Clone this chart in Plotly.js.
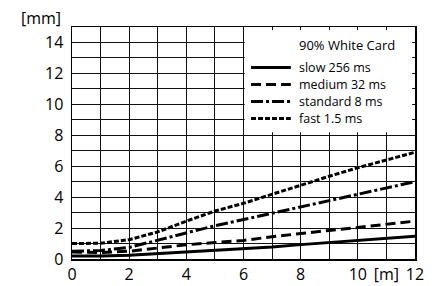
<!DOCTYPE html>
<html>
<head>
<meta charset="utf-8">
<script src="https://cdn.plot.ly/plotly-3.0.1.min.js"></script>
<style>html,body{margin:0;padding:0;background:#fff;}#chart{width:444px;height:286px;}</style>
</head>
<body>
<div id="chart"></div>
<script>
// Data (distance [m] vs spot/deviation [mm])
const distance = [0, 1, 2, 3, 4, 5, 6, 7, 8, 9, 10, 11, 12];
const slow256 = [0.2, 0.2, 0.25, 0.35, 0.45, 0.55, 0.63, 0.77, 0.93, 1.07, 1.21, 1.35, 1.47];
const medium32 = [0.45, 0.42, 0.5, 0.7, 0.92, 1.06, 1.2, 1.44, 1.66, 1.85, 2.04, 2.25, 2.45];
const standard8 = [0.5, 0.55, 0.75, 1.2, 1.7, 2.15, 2.55, 2.95, 3.37, 3.8, 4.2, 4.6, 5.0];
const fast15 = [1.0, 1.02, 1.25, 1.75, 2.45, 3.1, 3.6, 4.2, 4.8, 5.35, 5.9, 6.4, 6.9];
const seriesNames = ['slow 256 ms', 'medium 32 ms', 'standard 8 ms', 'fast 1.5 ms'];
const legendTitle = '90% White Card';
const xTickVals = [0, 1, 2, 3, 4, 5, 6, 7, 8, 9, 10, 11, 12];
const xTickText = ['0', '', '2', '', '4', '', '6', '', '8', '', '10', '[m]', '12'];
const yTickVals = [0, 1, 2, 3, 4, 5, 6, 7, 8, 9, 10, 11, 12, 13, 14, 15];
const yTickText = ['0', '', '2', '', '4', '', '6', '', '8', '', '10', '', '12', '', '14', ''];
const yUnit = '[mm]';

const seriesValues = [slow256, medium32, standard8, fast15];
const dashes = ['solid', '10px,5px', '12px,3px,3px,3px', '5px,2px'];
const LW = 3;
const FONT = '"Open Sans", "DejaVu Sans", sans-serif';

const traces = seriesValues.map((ys, i) => ({
  type: 'scatter', mode: 'lines', x: distance, y: ys, name: seriesNames[i],
  line: {color: '#000', width: LW, dash: dashes[i]}, showlegend: false, hoverinfo: 'skip'
}));

// manual legend (inside a white box covering the grid)
const legX0 = 0.522, legX1 = 0.638, legTextX = 0.66;
const legY = [0.825, 0.752, 0.679, 0.606];
const shapes = [{
  type: 'rect', xref: 'x', yref: 'y', x0: 6.04, x1: 11.9, y0: 8.2, y1: 14.8,
  fillcolor: '#fff', line: {width: 0}, layer: 'above'
}];
const annotations = [{
  xref: 'paper', yref: 'paper', x: legTextX, y: 0.922, xanchor: 'left', yanchor: 'middle',
  text: legendTitle, showarrow: false, borderpad: 0,
  font: {family: FONT, size: 13, color: '#000'}
}, {
  xref: 'paper', yref: 'paper', x: -0.026, y: 1.039, xanchor: 'right', yanchor: 'middle',
  text: yUnit, showarrow: false, font: {family: FONT, size: 16, color: '#000'}
}];
seriesNames.forEach((n, i) => {
  shapes.push({type: 'line', xref: 'paper', yref: 'paper', x0: legX0, x1: legX1, y0: legY[i], y1: legY[i],
    line: {color: '#000', width: LW, dash: dashes[i]}, layer: 'above'});
  annotations.push({xref: 'paper', yref: 'paper', x: legTextX, y: legY[i], xanchor: 'left', yanchor: 'middle',
    text: n, showarrow: false, borderpad: 0,
    font: {family: FONT, size: 12.5, color: '#000'}});
});

const layout = {
  width: 444, height: 286,
  margin: {l: 72, r: 29, t: 27, b: 27, pad: 0},
  paper_bgcolor: '#fff', plot_bgcolor: '#fff',
  showlegend: false,
  font: {family: FONT, size: 16, color: '#000'},
  xaxis: {
    range: [0, 12], tickmode: 'array', tickvals: xTickVals, ticktext: xTickText,
    showgrid: true, gridcolor: '#111', gridwidth: 1, zeroline: false,
    showline: true, linecolor: '#000', linewidth: 1.5, mirror: true,
    ticks: '', tickfont: {family: FONT, size: 16, color: '#000'}, fixedrange: true
  },
  yaxis: {
    range: [0, 15], tickmode: 'array', tickvals: yTickVals, ticktext: yTickText,
    showgrid: true, gridcolor: '#111', gridwidth: 1, zeroline: false,
    showline: true, linecolor: '#000', linewidth: 1.5, mirror: true,
    ticks: '', ticklabelstandoff: 4, tickfont: {family: FONT, size: 16, color: '#000'}, fixedrange: true
  },
  shapes: shapes,
  annotations: annotations
};

Plotly.newPlot('chart', traces, layout, {displayModeBar: false, staticPlot: true});
</script>
</body>
</html>
